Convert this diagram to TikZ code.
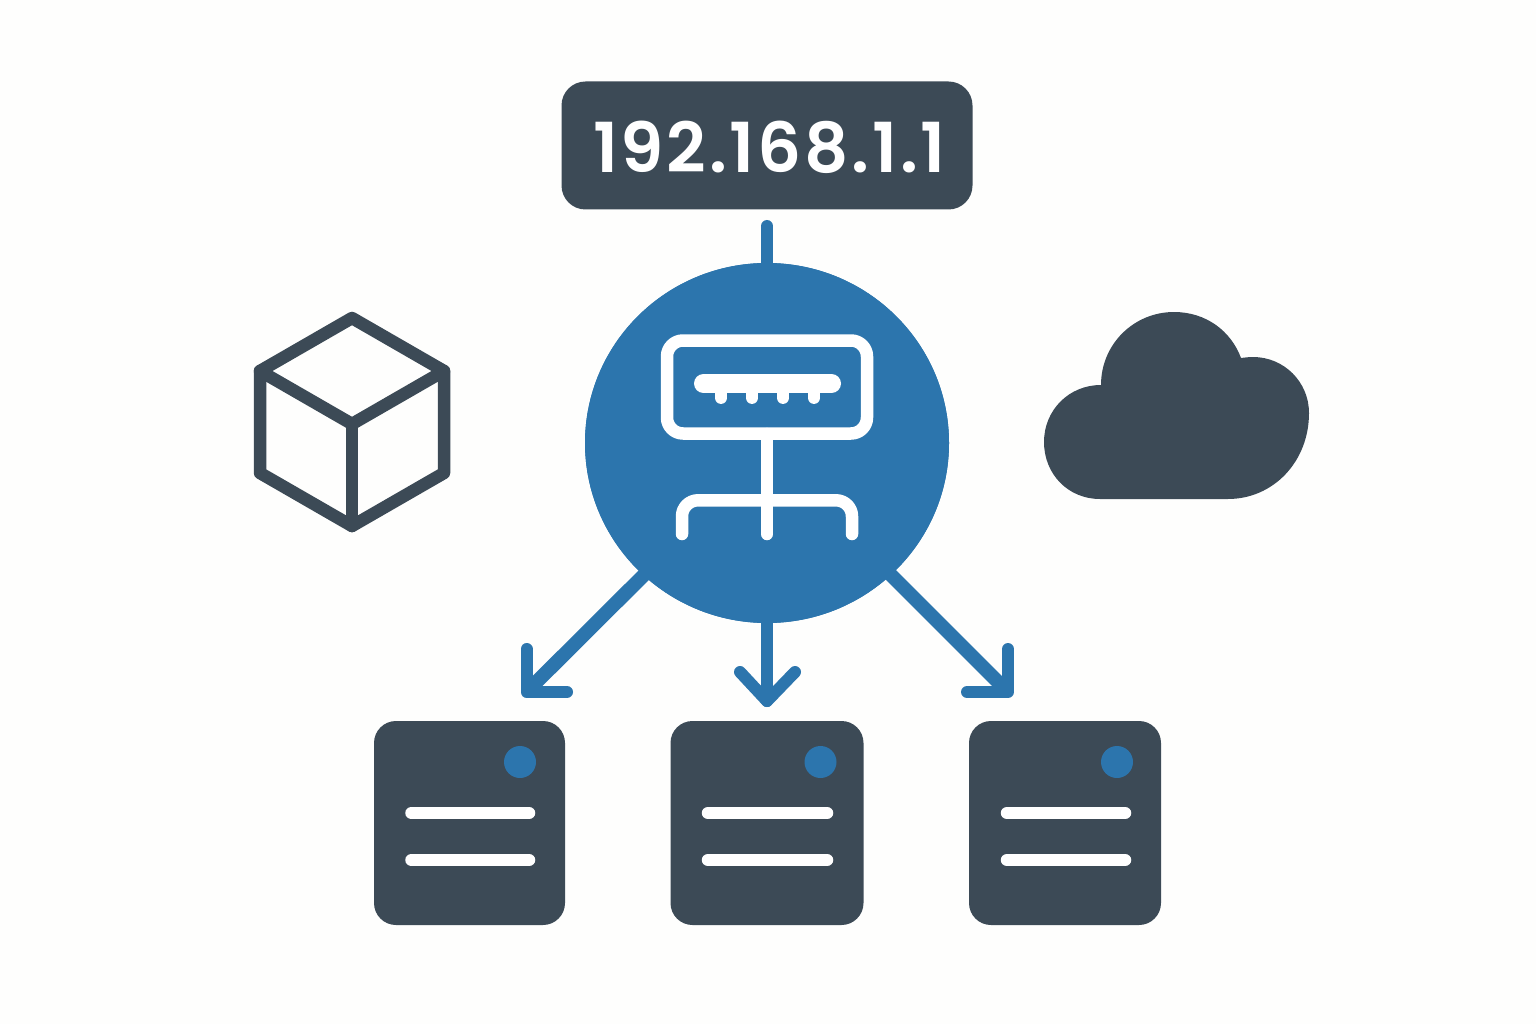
\documentclass[tikz,border=0pt]{standalone}
\usepackage{fontspec}
\usetikzlibrary{shapes.geometric}
\setmainfont{Liberation Sans}
\newfontfamily\ipfont[LetterSpace=4]{Poppins SemiBold}
\definecolor{slate}{HTML}{3C4A56}
\definecolor{netblue}{HTML}{2C75AD}
\definecolor{paper}{HTML}{FEFEFD}
\tikzset{
  x=1pt,y=-1pt,
  hubline/.style={draw=white,line width=12.5pt,line cap=round,line join=round},
  flow/.style={draw=netblue,line width=12pt,line join=round,line cap=round},
  diagflow/.style={draw=netblue,line width=14pt,line cap=butt},
  hubshape/.style={ellipse,fill=netblue,minimum width=364pt,minimum height=360pt,inner sep=0pt},
  serverbox/.style={rounded corners=22pt,fill=slate,minimum height=204pt,inner sep=0pt},
  bar/.style={draw=white,line width=12.5pt,line cap=round},
  lamp/.style={circle,fill=netblue,minimum size=32pt,inner sep=0pt},
  cubeline/.style={draw=slate,line width=12.5pt,line join=round,line cap=round},
}
\begin{document}
\begin{tikzpicture}
\useasboundingbox (0,0) rectangle (1536,1024);
\fill[paper] (0,0) rectangle (1536,1024);
% label
\node[rounded corners=24pt,fill=slate,minimum width=411pt,minimum height=128pt,inner sep=0pt,text=white,font=\ipfont\fontsize{69}{69}\selectfont] (ip) at (767,145.5) {\hspace{5pt}\raisebox{-27.5pt}[0pt][0pt]{192.168.1.1}};
% hub
\coordinate (linktop) at (767,226);
\node[hubshape] (hub) at (767,443) {};
\draw[flow] (linktop) -- (hub.center);
% servers
\node[serverbox,minimum width=191pt] (s1) at (469.5,823) {};
\node[serverbox,minimum width=193pt] (s2) at (767,823) {};
\node[serverbox,minimum width=192pt] (s3) at (1065,823) {};
% arrows
\coordinate (t1) at (526.5,692);
\coordinate (t2) at (767,701);
\coordinate (t3) at (1008,692);
\coordinate (d1) at (660,559);
\coordinate (d3) at (875,559);
\draw[diagflow] (d1) -- (t1);
\draw[flow] (hub.center) -- (t2);
\draw[diagflow] (d3) -- (t3);
\draw[flow] (526.5,649) -- (t1) -- (567,692);
\draw[flow] (740,672) -- (t2) -- (795,672);
\draw[flow] (1008,649) -- (t3) -- (967,692);
\node[hubshape] at (hub) {};
% hub icon
\draw[hubline,rounded corners=16pt] (667,340.5) rectangle (867,433.5);
\draw[draw=white,line width=19pt,line cap=round] (703.5,383.5) -- (831.5,383.5);
\foreach \x in {721,752,783,814} \draw[bar] (\x,390) -- (\x,397.7);
\draw[hubline] (767,434) -- (767,534);
\draw[hubline,rounded corners=16pt] (682,534) -- (682,500.3) -- (852,500.3) -- (852,534);
% cube
\draw[cubeline] (352,318) -- (444,371) -- (444,473) -- (352,526) -- (260,473) -- (260,371) -- cycle;
\draw[cubeline] (260,371) -- (352,424) -- (444,371);
\draw[cubeline] (352,424) -- (352,526);
% cloud
\fill[slate] (1100,499) .. controls (1068,499) and (1044,474) .. (1044,442)
 .. controls (1044,410) and (1069,385) .. (1101,385)
 .. controls (1101,344) and (1134,312) .. (1174,312)
 .. controls (1206,312) and (1231,331) .. (1241,358)
 .. controls (1245,357.5) and (1249,357) .. (1253,357)
 .. controls (1284,357) and (1309,382) .. (1309,413)
 .. controls (1309,462) and (1273,499) .. (1228,499) -- cycle;
% server details
\node[lamp] (l1) at (520,762) {};
\node[lamp] (l2) at (820.5,762) {};
\node[lamp] (l3) at (1117,762) {};
\draw[bar] (411.5,813) -- (529,813);
\draw[bar] (411.5,860) -- (529,860);
\draw[bar] (708,813) -- (827,813);
\draw[bar] (708,860) -- (827,860);
\draw[bar] (1007,813) -- (1125,813);
\draw[bar] (1007,860) -- (1125,860);
\end{tikzpicture}
\end{document}
